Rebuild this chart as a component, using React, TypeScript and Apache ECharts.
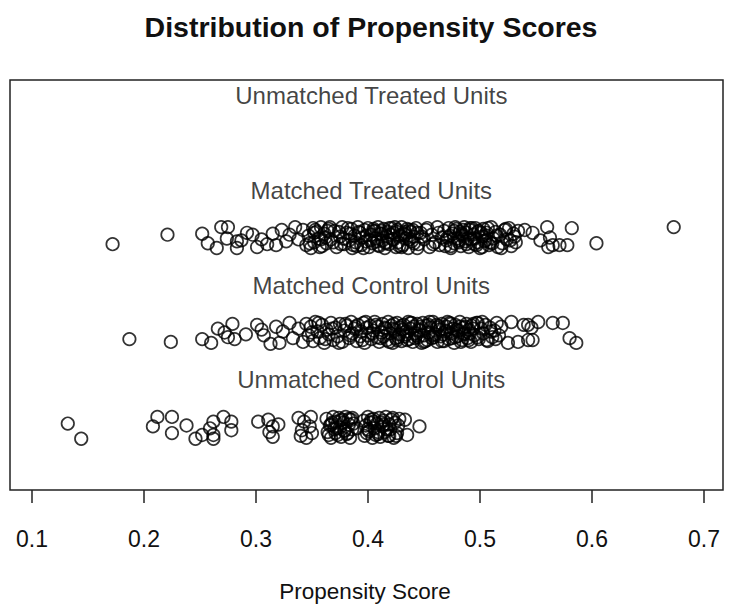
import React, { useEffect, useRef } from "react";
import * as echarts from "echarts";

const tickValues = [0.1, 0.2, 0.3, 0.4, 0.5, 0.6, 0.7];
const groupLabels = ["Unmatched Treated Units", "Matched Treated Units", "Matched Control Units", "Unmatched Control Units"];
const labelRows = [2.5, 1.5, 0.5, -0.5];
const groupRows = [2, 1, 0, -1];

const unmatchedTreatedScore: number[] = [];
const unmatchedTreatedJitter: number[] = [];

const matchedTreatedScore = [
  0.172, 0.221, 0.252, 0.257, 0.265, 0.269, 0.275, 0.274, 0.283, 0.283, 0.287, 0.292, 0.297, 0.301, 0.305, 0.310, 0.315, 0.318, 0.323, 0.327, 0.330, 0.335, 0.338, 0.342, 0.345,
  0.347, 0.349, 0.351, 0.352, 0.354, 0.356, 0.358, 0.359, 0.361, 0.363, 0.365, 0.367, 0.370, 0.372, 0.375, 0.377, 0.379, 0.381, 0.383, 0.385, 0.386, 0.388, 0.389, 0.391, 0.392, 0.394, 0.395, 0.397, 0.398, 0.400,
  0.401, 0.403, 0.404, 0.406, 0.407, 0.409, 0.410, 0.411, 0.413, 0.414, 0.415, 0.417, 0.418, 0.419, 0.421, 0.422, 0.423, 0.425, 0.426, 0.427, 0.429, 0.430, 0.431, 0.432, 0.434, 0.435, 0.436, 0.438, 0.439, 0.441,
  0.443, 0.445, 0.447, 0.450, 0.452, 0.455, 0.457, 0.460, 0.462, 0.464, 0.466, 0.468, 0.470, 0.472, 0.474, 0.476, 0.477, 0.479, 0.480, 0.482, 0.483, 0.484, 0.486, 0.487, 0.488, 0.490, 0.491, 0.492, 0.494, 0.495,
  0.496, 0.498, 0.499, 0.500, 0.502, 0.503, 0.505, 0.506, 0.508, 0.510, 0.512, 0.514, 0.516, 0.518, 0.520, 0.522, 0.524, 0.526, 0.528, 0.530, 0.532, 0.534,
  0.540, 0.547, 0.554, 0.560, 0.5625, 0.561, 0.565, 0.571, 0.578, 0.582, 0.604, 0.673,
  0.348, 0.353, 0.357, 0.362, 0.366, 0.369, 0.374, 0.378, 0.382, 0.387, 0.393, 0.396, 0.399, 0.405, 0.408, 0.412, 0.416, 0.420, 0.424, 0.428, 0.433, 0.437, 0.440,
  0.444, 0.448, 0.453, 0.458, 0.463, 0.469, 0.473, 0.478, 0.481, 0.485, 0.489, 0.493, 0.497, 0.501, 0.504, 0.507, 0.511, 0.515, 0.519, 0.523, 0.527, 0.531,
  0.402, 0.405, 0.409, 0.412, 0.416, 0.419, 0.423, 0.426, 0.430, 0.433, 0.437, 0.441, 0.444,
  0.471, 0.474, 0.477, 0.481, 0.484, 0.488, 0.491, 0.495, 0.498, 0.502, 0.506, 0.509,
  0.352, 0.358, 0.364, 0.376, 0.384, 0.390,
];
const matchedTreatedJitter = [
  -0.07, 0.03, 0.04, -0.06, -0.11, 0.11, 0.11, -0.01, -0.04, -0.11, -0.03, 0.05, 0.03, -0.10, -0.02, -0.07, 0.04, -0.08, 0.08, -0.04, 0.03, 0.11, -0.02, 0.08, -0.08,
  0.02, -0.11, 0.10, -0.05, 0.06, -0.01, 0.11, -0.09, 0.04, -0.06, 0.09, -0.02, 0.07, -0.10, 0.01, 0.11, -0.07, 0.05, -0.03, 0.09, -0.11, 0.02, -0.05, 0.11, 0.06, -0.08, 0.00, 0.08, -0.04, 0.10,
  -0.10, 0.03, -0.06, 0.07, -0.01, 0.11, -0.09, 0.04, -0.03, 0.09, -0.11, 0.01, 0.06, -0.07, 0.10, -0.02, 0.05, -0.10, 0.08, -0.05, 0.02, 0.11, -0.08, 0.04, -0.01, 0.09, -0.11, 0.06, -0.04, 0.01,
  0.10, -0.07, 0.05, -0.02, 0.08, -0.10, 0.03, -0.05, 0.11, -0.08, 0.00, 0.07, -0.03, 0.10, -0.11, 0.04, -0.06, 0.09, -0.01, 0.06, -0.09, 0.02, 0.11, -0.04, 0.05, -0.10, 0.08, -0.02, 0.03, -0.07,
  0.10, -0.05, 0.07, -0.11, 0.01, 0.09, -0.03, 0.05, -0.08, 0.11, -0.01, 0.06, -0.10, 0.03, -0.06, 0.08, -0.02, 0.10, -0.09, 0.04, -0.05, 0.07,
  0.08, 0.05, -0.03, 0.11, 0.00, -0.10, -0.08, -0.08, -0.08, 0.10, -0.06, 0.11,
  -0.06, 0.08, -0.10, 0.00, 0.11, -0.05, 0.06, -0.01, 0.10, -0.08, 0.05, -0.11, 0.02, 0.09, -0.04, 0.07, -0.06, 0.03, 0.11, -0.09, 0.06, -0.02, 0.08,
  -0.11, 0.01, 0.10, -0.07, 0.05, -0.09, 0.02, 0.11, -0.05, 0.08, -0.01, 0.10, -0.08, 0.05, -0.04, 0.10, -0.06, 0.02, -0.11, 0.09, -0.03, 0.01,
  -0.03, 0.07, -0.08, 0.04, -0.05, 0.10, -0.02, 0.06, -0.10, 0.03, 0.08, -0.06, 0.05,
  0.00, -0.09, 0.07, -0.03, 0.04, -0.07, 0.10, -0.01, 0.06, -0.10, 0.02, -0.05,
  0.05, -0.02, 0.07, -0.07, 0.04, -0.09,
];

const matchedControlScore = [
  0.187, 0.224, 0.252, 0.260, 0.266, 0.272, 0.279, 0.275, 0.281, 0.291, 0.301, 0.305, 0.307, 0.313, 0.318, 0.321, 0.324, 0.330, 0.333, 0.338, 0.342, 0.345,
  0.347, 0.349, 0.351, 0.353, 0.355, 0.357, 0.359, 0.361, 0.363, 0.365, 0.367, 0.369, 0.371, 0.373, 0.375, 0.377, 0.379, 0.381, 0.383, 0.385, 0.386, 0.388, 0.390, 0.391, 0.393, 0.394, 0.396, 0.397, 0.399, 0.400,
  0.402, 0.403, 0.405, 0.406, 0.408, 0.409, 0.410, 0.412, 0.413, 0.414, 0.416, 0.417, 0.418, 0.420, 0.421, 0.422, 0.424, 0.425, 0.426, 0.428, 0.429, 0.430, 0.432, 0.433, 0.434, 0.436, 0.437, 0.438, 0.440,
  0.441, 0.442, 0.444, 0.445, 0.446, 0.448, 0.449, 0.450, 0.452, 0.453, 0.454, 0.456, 0.457, 0.458, 0.460, 0.461, 0.462, 0.464, 0.465, 0.466, 0.468, 0.469, 0.470, 0.472, 0.473, 0.474, 0.476, 0.477, 0.478,
  0.480, 0.481, 0.482, 0.484, 0.485, 0.486, 0.488, 0.489, 0.490, 0.492, 0.493, 0.495, 0.497, 0.499, 0.501, 0.503, 0.505, 0.507, 0.509, 0.511, 0.513, 0.515, 0.517,
  0.528, 0.539, 0.543, 0.546, 0.552, 0.547, 0.543, 0.534, 0.525, 0.565, 0.574, 0.580, 0.586,
  0.350, 0.356, 0.362, 0.368, 0.374, 0.380, 0.384, 0.389, 0.395, 0.398, 0.404, 0.407, 0.411, 0.415, 0.419, 0.423, 0.427, 0.431, 0.435, 0.439,
  0.443, 0.447, 0.451, 0.455, 0.459, 0.463, 0.467, 0.471, 0.475, 0.479, 0.483, 0.487, 0.491, 0.494, 0.498, 0.502, 0.506, 0.510, 0.514, 0.519,
  0.422, 0.426, 0.430, 0.434, 0.438, 0.442, 0.446, 0.450, 0.454, 0.458, 0.462, 0.466, 0.470, 0.474, 0.478, 0.482, 0.486, 0.490, 0.494, 0.498,
];
const matchedControlJitter = [
  -0.07, -0.10, -0.07, -0.11, 0.04, 0.00, 0.09, -0.05, -0.07, -0.02, 0.08, 0.03, -0.03, -0.12, 0.06, -0.11, 0.01, 0.10, -0.06, 0.04, -0.10, 0.09,
  -0.03, 0.06, -0.09, 0.11, 0.01, -0.06, 0.08, -0.11, 0.03, -0.02, 0.10, -0.08, 0.05, -0.04, 0.09, -0.10, 0.02, 0.07, -0.06, 0.11, -0.01, 0.04, -0.09, 0.08, -0.04, 0.01, 0.10, -0.11, 0.05, -0.03,
  0.07, -0.07, 0.02, 0.11, -0.05, 0.06, -0.10, 0.00, 0.09, -0.04, 0.04, -0.08, 0.11, -0.01, 0.07, -0.11, 0.03, -0.06, 0.10, -0.02, 0.05, -0.09, 0.08, -0.04, 0.01, 0.11, -0.07, 0.04, -0.10,
  0.06, -0.01, 0.09, -0.05, 0.02, -0.11, 0.10, -0.03, 0.07, -0.08, 0.00, 0.05, -0.06, 0.11, -0.02, 0.08, -0.10, 0.03, -0.04, 0.09, -0.09, 0.01, 0.06, -0.07, 0.10, -0.01, 0.04, -0.11, 0.08,
  -0.04, 0.02, 0.11, -0.08, 0.05, -0.02, 0.09, -0.06, 0.03, -0.10, 0.07, -0.03, 0.10, -0.07, 0.04, -0.01, 0.08, -0.09, 0.05, -0.05, 0.02, 0.10, -0.03,
  0.11, 0.08, 0.08, 0.05, 0.11, -0.08, -0.08, -0.10, -0.11, 0.10, 0.10, -0.06, -0.11,
  0.00, 0.10, -0.07, 0.04, -0.11, 0.09, -0.03, 0.06, -0.08, 0.11, -0.01, 0.08, -0.06, 0.05, -0.10, 0.09, -0.05, 0.03, -0.08, 0.10,
  -0.03, 0.06, -0.09, 0.11, -0.05, 0.07, -0.02, 0.11, -0.06, 0.03, -0.10, 0.06, -0.01, 0.09, -0.05, 0.11, -0.08, 0.01, -0.07, 0.06,
  0.04, -0.08, 0.07, -0.02, 0.10, -0.06, 0.03, -0.10, 0.08, -0.03, 0.05, -0.09, 0.02, 0.09, -0.05, 0.06, -0.01, -0.08, 0.04, 0.10,
];

const unmatchedControlScore = [
  0.132, 0.144, 0.212, 0.208, 0.225, 0.225, 0.238, 0.246, 0.252, 0.259, 0.262, 0.262, 0.262, 0.271, 0.278, 0.278,
  0.302, 0.311, 0.315, 0.312, 0.315, 0.320,
  0.338, 0.341, 0.343, 0.345, 0.349, 0.350, 0.340, 0.348,
  0.363, 0.364, 0.366, 0.367, 0.369, 0.370, 0.371, 0.373, 0.374, 0.375, 0.376, 0.378, 0.379, 0.380, 0.381, 0.383, 0.384, 0.385, 0.386, 0.387,
  0.390,
  0.396, 0.397, 0.398, 0.400, 0.401, 0.402, 0.404, 0.405, 0.406, 0.408, 0.409, 0.410, 0.411, 0.413, 0.414, 0.415, 0.416, 0.418, 0.419, 0.420, 0.421, 0.423, 0.424, 0.426, 0.428,
  0.433, 0.435, 0.446,
  0.365, 0.368, 0.372, 0.377, 0.382, 0.386, 0.399, 0.403, 0.407, 0.412, 0.417, 0.422, 0.425, 0.427,
  0.367, 0.371, 0.375, 0.379, 0.383, 0.400, 0.405, 0.409, 0.414, 0.419,
];
const unmatchedControlJitter = [
  0.04, -0.12, 0.11, 0.01, 0.11, -0.06, 0.02, -0.12, -0.08, -0.01, 0.06, -0.08, -0.12, 0.11, 0.06, -0.03,
  0.06, 0.08, 0.01, -0.05, -0.10, 0.03,
  0.10, -0.03, 0.06, -0.11, 0.11, -0.06, -0.09, 0.01,
  0.09, -0.05, 0.02, -0.11, 0.11, -0.02, 0.06, -0.08, 0.10, 0.00, -0.10, 0.05, -0.04, 0.11, -0.07, 0.03, -0.11, 0.08, -0.02, 0.04,
  -0.01,
  0.07, -0.09, 0.02, 0.11, -0.04, 0.05, -0.11, 0.09, -0.01, 0.04, -0.07, 0.10, -0.10, 0.01, 0.07, -0.05, 0.11, -0.09, 0.03, -0.02, 0.08, -0.11, 0.05, -0.06, 0.09,
  0.08, -0.08, 0.01,
  -0.08, 0.05, -0.01, 0.08, -0.06, 0.10, -0.06, 0.08, -0.08, 0.05, -0.02, 0.10, -0.09, 0.02,
  0.03, -0.06, 0.07, -0.03, 0.09, -0.02, 0.06, -0.05, 0.03, -0.09,
];

const FONT = '"Liberation Sans", Arial, Helvetica, sans-serif';

function toPoints(scores: number[], jitter: number[], row: number) {
  return scores.map((s, i) => [s, row + (jitter[i] ?? 0)]);
}

export default function App() {
  const ref = useRef<HTMLDivElement>(null);
  useEffect(() => {
    if (!ref.current) return;
    const chart = echarts.init(ref.current, undefined, { renderer: "svg" });
    const xMin = 0.0804;
    const xMax = 0.717;
    const labelX = 0.403;
    const symbolStyle = {
      symbol: "circle",
      symbolSize: 12.5,
      itemStyle: { color: "rgba(0,0,0,0)", borderColor: "#000", borderWidth: 1.7 },
      emphasis: { disabled: true },
    };
    chart.setOption({
      animation: false,
      backgroundColor: "#fff",
      textStyle: { fontFamily: FONT },
      grid: {
        left: 10, right: 8, top: 80, bottom: 117,
        show: true, borderColor: "#222", borderWidth: 1.5, backgroundColor: "transparent",
      },
      xAxis: {
        type: "value",
        min: xMin,
        max: xMax,
        axisLine: { show: false, onZero: false },
        splitLine: { show: false },
        axisTick: { show: true, length: 13, customValues: tickValues, lineStyle: { color: "#222", width: 1.5 } },
        axisLabel: {
          customValues: tickValues,
          margin: 37,
          fontSize: 23,
          color: "#111",
          fontFamily: FONT,
          formatter: (v: number) => String(Math.round(v * 10) / 10),
        },
      },
      yAxis: { type: "value", min: -1.66, max: 2.66, show: false },
      graphic: [
        {
          type: "text", x: 371, y: 27,
          style: {
            text: "Distribution of Propensity Scores", fontSize: 28.5, fontWeight: "bold",
            fontFamily: FONT, fill: "#111", align: "center", verticalAlign: "middle",
          },
        },
        {
          type: "text", x: 365, y: 591,
          style: {
            text: "Propensity Score", fontSize: 22.5, fontFamily: FONT, fill: "#111",
            align: "center", verticalAlign: "middle",
          },
        },
      ],
      series: [
        { type: "scatter", name: groupLabels[0], data: toPoints(unmatchedTreatedScore, unmatchedTreatedJitter, groupRows[0]), ...symbolStyle },
        { type: "scatter", name: groupLabels[1], data: toPoints(matchedTreatedScore, matchedTreatedJitter, groupRows[1]), ...symbolStyle },
        { type: "scatter", name: groupLabels[2], data: toPoints(matchedControlScore, matchedControlJitter, groupRows[2]), ...symbolStyle },
        { type: "scatter", name: groupLabels[3], data: toPoints(unmatchedControlScore, unmatchedControlJitter, groupRows[3]), ...symbolStyle },
        {
          type: "scatter",
          name: "labels",
          symbolSize: 0,
          silent: true,
          data: groupLabels.map((t, i) => ({ value: [labelX, labelRows[i]], name: t })),
          label: {
            show: true,
            position: "inside",
            formatter: (p: any) => p.name,
            fontSize: 24,
            fontFamily: FONT,
            color: "#111",
          },
        },
      ],
    });
    return () => chart.dispose();
  }, []);
  return (
    <div
      ref={ref}
      style={{ position: "absolute", left: 0, top: 0, width: 731, height: 607 }}
    />
  );
}
